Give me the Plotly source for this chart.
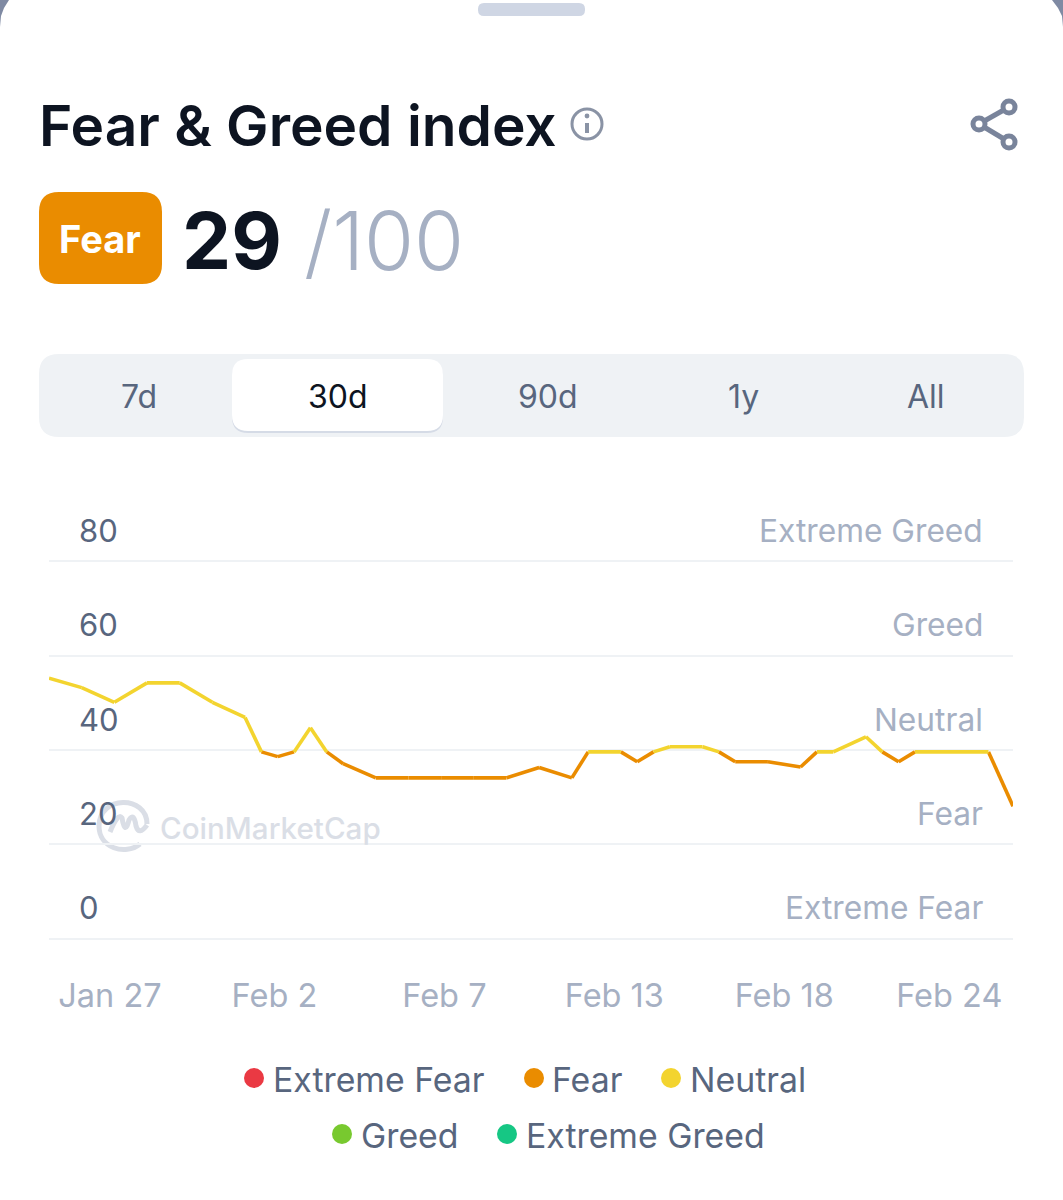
import plotly.graph_objects as go

W, H = 1063, 1200

# chart data, x is the position along the axis
positions = [0, 2, 4, 6, 8, 10, 12, 13, 14, 15, 16, 17, 18, 20, 22, 24, 26, 28, 30, 32,
             33, 35, 36, 37, 38, 40, 41, 42, 44, 46, 47, 48, 50, 51, 52, 53, 57.5, 59]
values = [55.2, 53.2, 50.1, 54.2, 54.2, 50.1, 46.9, 39.6, 38.6, 39.6, 44.7, 39.6, 37.1, 34.1, 34.1, 34.1, 34.1, 34.1, 36.3, 34.1,
          39.6, 39.6, 37.5, 39.6, 40.7, 40.7, 39.6, 37.5, 37.5, 36.4, 39.6, 39.6, 42.8, 39.6, 37.5, 39.6, 39.6, 28.1]
date_ticks = [3.73, 13.8, 24.2, 34.6, 45, 55.1]
date_labels = ["Jan 27", "Feb 2", "Feb 7", "Feb 13", "Feb 18", "Feb 24"]
y_ticks = [0, 20, 40, 60, 80]
zone_labels = ["Extreme Fear", "Fear", "Neutral", "Greed", "Extreme Greed"]
zone_colors = ["#ea3943", "#ea8c00", "#f3d42f", "#78c92f", "#16c784"]
periods = ["7d", "30d", "90d", "1y", "All"]

NEUTRAL_FLOOR = 39.5
FONT = "Inter"
DARK = "#0d1421"
GREY = "#58667e"
PALE = "#a6b0c3"
MARK = "#dadee6"


def px(x):
    return x / W


def py(y):
    return 1 - y / H


def rounded(x0, y0, x1, y1, r, color, layer="below"):
    a, b, c, d = px(x0), py(y0), px(x1), py(y1)
    rx, ry = r / W, r / H
    path = (f"M{a + rx},{b} L{c - rx},{b} Q{c},{b} {c},{b - ry} L{c},{d + ry} Q{c},{d} {c - rx},{d} "
            f"L{a + rx},{d} Q{a},{d} {a},{d + ry} L{a},{b - ry} Q{a},{b} {a + rx},{b} Z")
    return dict(type="path", xref="paper", yref="paper", path=path, fillcolor=color, line_width=0, layer=layer)


def circle(cx, cy, r, fill, stroke=None, width=0):
    return dict(type="circle", xref="paper", yref="paper", x0=px(cx - r), x1=px(cx + r), y0=py(cy + r), y1=py(cy - r),
                fillcolor=fill, line=dict(color=stroke or fill, width=width), layer="above")


def segment(x0, y0, x1, y1, color, width):
    return dict(type="line", xref="paper", yref="paper", x0=px(x0), x1=px(x1), y0=py(y0), y1=py(y1),
                line=dict(color=color, width=width), layer="above")


def svg(points, color, width):
    d = ""
    for i, p in enumerate(points):
        d += f"{'M' if i == 0 else 'L'}{px(p[0])},{py(p[1])} "
    return dict(type="path", xref="paper", yref="paper", path=d, line=dict(color=color, width=width), layer="below")


def label(text, x, y, size, color, anchor="left", weight=400):
    return dict(text=text, xref="paper", yref="paper", x=px(x), y=py(y), xanchor=anchor, yanchor="middle",
                showarrow=False, font=dict(family=FONT, size=size, color=color, weight=weight))


# split the line in two colours, a segment is neutral only if both ends are
neutral_x, neutral_y, fear_x, fear_y = [], [], [], []
for i in range(len(values) - 1):
    if min(values[i], values[i + 1]) >= NEUTRAL_FLOOR:
        neutral_x += [positions[i], positions[i + 1], None]
        neutral_y += [values[i], values[i + 1], None]
    else:
        fear_x += [positions[i], positions[i + 1], None]
        fear_y += [values[i], values[i + 1], None]

fig = go.Figure()
fig.add_trace(go.Scatter(x=fear_x, y=fear_y, mode="lines", name="Fear", line=dict(color="#ea8c00", width=3.6)))
fig.add_trace(go.Scatter(x=neutral_x, y=neutral_y, mode="lines", name="Neutral", line=dict(color="#f3d42f", width=3.6)))

shapes = [
    # window corners and drag handle
    svg([(0, 0), (9, 0), (4, 8), (1, 16), (0, 27), (0, 0)], "#7f8aa3", 0) | {"fillcolor": "#7f8aa3"},
    svg([(1063, 0), (1052, 0), (1058, 8), (1062, 16), (1063, 27), (1063, 0)], "#7f8aa3", 0) | {"fillcolor": "#7f8aa3"},
    rounded(478, 3, 585, 16, 6, "#cfd6e4"),
    # badge and tab bar
    rounded(39, 192, 162, 284, 20, "#ea8c00"),
    rounded(39, 354, 1024, 437, 20, "#eff2f5"),
    rounded(232, 361, 443, 433, 16, "#d5dbe6"),
    rounded(232, 359, 443, 431, 16, "#ffffff"),
    # info icon
    circle(587, 124, 15, "rgba(0,0,0,0)", "#8a93a5", 3),
    circle(587, 116, 2.4, "#8a93a5"),
    segment(587, 123, 587, 133, "#8a93a5", 4),
    # share icon
    segment(979, 124, 1009, 107, "#79849b", 5),
    segment(979, 124, 1009, 142, "#79849b", 5),
    circle(1009, 107, 6, "#ffffff", "#79849b", 5),
    circle(979, 124, 6, "#ffffff", "#79849b", 5),
    circle(1009, 142, 6, "#ffffff", "#79849b", 5),
    # watermark logo
    dict(type="path", xref="paper", yref="paper", layer="below", line=dict(color=MARK, width=5),
         path=f"M{px(140)},{py(844)} C{px(125)},{py(856)} {px(99)},{py(848)} {px(99)},{py(826)} "
              f"C{px(99)},{py(795)} {px(147)},{py(795)} {px(147)},{py(824)}"),
    dict(type="path", xref="paper", yref="paper", layer="below", line=dict(color=MARK, width=5),
         path=f"M{px(110)},{py(832)} Q{px(118)},{py(812)} {px(122)},{py(818)} Q{px(125)},{py(836)} {px(129)},{py(820)} "
              f"Q{px(134)},{py(812)} {px(136)},{py(826)} Q{px(139)},{py(836)} {px(147)},{py(825)}"),
]

dots = [(254, 1078), (534, 1078), (671, 1078), (342, 1134), (507, 1134)]
text_left = [(271, 1079), (550, 1079), (688, 1079), (359, 1135), (524, 1135)]
for c, (dx, dy) in zip(zone_colors, dots):
    shapes.append(circle(dx, dy, 10, c))

annotations = [
    label("Fear &amp; Greed index", 37, 126, 56.8, DARK, weight=600),
    label("Fear", 100, 239, 38, "#ffffff", "center", 700),
    label("29", 180, 241, 78, DARK, weight=700),
    label("/100", 302, 241, 81, PALE, weight=300),
    label("CoinMarketCap", 158, 828, 29.6, MARK, weight=500),
]
for name, x in zip(periods, [139, 338, 548, 743, 926]):
    annotations.append(label(name, x, 396.5, 32, DARK if name == "30d" else GREY, "center"))
for name, (x, y) in zip(zone_labels, text_left):
    annotations.append(label(name, x, y, 33.8, GREY))
# value and zone names sit above the grid line they belong to
for name, v in zip(zone_labels, y_ticks):
    annotations.append(dict(text=name, xref="paper", yref="y", x=px(985), y=v, xanchor="right", yanchor="middle", yshift=31,
                            showarrow=False, font=dict(family=FONT, size=31.7, color=PALE)))
    annotations.append(dict(text=str(v), xref="paper", yref="y", x=px(77), y=v, xanchor="left", yanchor="middle", yshift=31,
                            showarrow=False, font=dict(family=FONT, size=31, color=GREY)))

# range reaches a little past 0 and 80, plotly leaves out grid lines that sit on the edge
fig.update_layout(
    width=W, height=H,
    margin=dict(l=0, r=0, t=0, b=0),
    paper_bgcolor="#ffffff", plot_bgcolor="rgba(0,0,0,0)",
    showlegend=False,
    shapes=shapes, annotations=annotations,
    xaxis=dict(domain=[px(49), px(1013)], range=[0, 59], tickmode="array", tickvals=date_ticks, ticktext=date_labels,
               showgrid=False, zeroline=False, showline=False, ticks="", ticklabelstandoff=33,
               tickfont=dict(family=FONT, size=32.5, color=PALE)),
    yaxis=dict(domain=[py(940.4), py(559.6)], range=[-0.3, 80.3], tickmode="array", tickvals=y_ticks,
               gridcolor="#eff2f5", gridwidth=1.5, zeroline=False, showline=False, ticks="", showticklabels=False),
)

fig.write_html("out.html", config={"displayModeBar": False}, post_script="document.body.style.margin='0';")
